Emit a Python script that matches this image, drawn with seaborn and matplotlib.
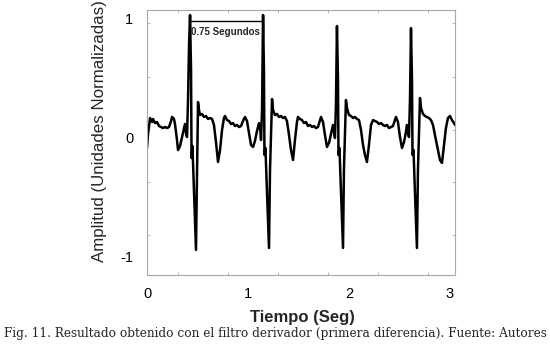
import matplotlib
matplotlib.use("Agg")
import matplotlib.pyplot as plt
import matplotlib.ticker as mticker
import seaborn as sns
import pandas as pd

# ---- data (time in s, normalized amplitude) ----
tiempo = [
    0.000, 0.010, 0.030, 0.050, 0.059, 0.079, 0.099, 0.119, 0.139, 0.158,
    0.178, 0.198, 0.218, 0.238, 0.248, 0.267, 0.277, 0.297, 0.307, 0.327,
    0.347, 0.366, 0.376, 0.386, 0.396, 0.406, 0.416, 0.426, 0.436, 0.441,
    0.450, 0.460, 0.485, 0.495, 0.505, 0.515, 0.525, 0.545, 0.564, 0.584,
    0.604, 0.624, 0.644, 0.663, 0.683, 0.703, 0.723, 0.743, 0.762, 0.772,
    0.792, 0.812, 0.832, 0.851, 0.871, 0.891, 0.911, 0.931, 0.950, 0.970,
    0.990, 1.010, 1.030, 1.050, 1.069, 1.089, 1.109, 1.119, 1.129, 1.139,
    1.149, 1.158, 1.163, 1.173, 1.183, 1.208, 1.218, 1.238, 1.248, 1.267,
    1.287, 1.307, 1.327, 1.347, 1.366, 1.386, 1.406, 1.426, 1.446, 1.465,
    1.485, 1.495, 1.515, 1.535, 1.554, 1.574, 1.594, 1.614, 1.634, 1.653,
    1.673, 1.693, 1.713, 1.723, 1.743, 1.762, 1.782, 1.802, 1.822, 1.842,
    1.851, 1.861, 1.871, 1.881, 1.891, 1.896, 1.906, 1.916, 1.941, 1.950,
    1.970, 1.980, 2.000, 2.020, 2.040, 2.059, 2.079, 2.099, 2.119, 2.139,
    2.158, 2.178, 2.198, 2.218, 2.238, 2.257, 2.277, 2.297, 2.317, 2.337,
    2.356, 2.376, 2.396, 2.416, 2.436, 2.455, 2.465, 2.485, 2.505, 2.525,
    2.545, 2.564, 2.574, 2.584, 2.594, 2.604, 2.614, 2.624, 2.629, 2.639,
    2.649, 2.673, 2.683, 2.703, 2.713, 2.733, 2.752, 2.772, 2.792, 2.812,
    2.832, 2.851, 2.881, 2.901, 2.921, 2.941, 2.960, 2.980, 3.000, 3.020,
    3.040, 3.050,
]
amplitud = [
    -0.088, 0.029, 0.163, 0.130, 0.155, 0.121, 0.130, 0.096, 0.088, 0.079,
    0.088, 0.079, 0.088, 0.138, 0.172, 0.155, 0.113, -0.021, -0.105, -0.071,
    0.004, 0.079, 0.113, 0.038, 0.004, 0.314, 0.774, 1.025, 0.565, -0.172,
    -0.071, -0.314, -0.941, -0.314, 0.297, 0.230, 0.188, 0.197, 0.172, 0.180,
    0.155, 0.163, 0.155, 0.105, -0.038, -0.205, -0.105, 0.063, 0.163, 0.180,
    0.146, 0.138, 0.113, 0.121, 0.096, 0.105, 0.088, 0.096, 0.138, 0.172,
    0.138, 0.038, -0.063, -0.079, -0.029, 0.054, 0.121, 0.088, -0.021, 0.230,
    1.025, 0.565, -0.146, -0.088, -0.339, -0.925, -0.272, 0.322, 0.230, 0.188,
    0.197, 0.172, 0.180, 0.163, 0.172, 0.138, 0.021, -0.105, -0.188, -0.021,
    0.130, 0.172, 0.155, 0.146, 0.121, 0.130, 0.096, 0.105, 0.088, 0.096,
    0.079, 0.088, 0.146, 0.172, 0.130, 0.021, -0.079, -0.046, 0.029, 0.105,
    0.063, -0.004, 0.272, 0.933, 0.481, -0.146, -0.088, -0.339, -0.925, -0.272,
    0.314, 0.247, 0.188, 0.180, 0.163, 0.172, 0.155, 0.146, 0.063, -0.063,
    -0.146, -0.205, -0.063, 0.105, 0.146, 0.138, 0.130, 0.113, 0.121, 0.105,
    0.096, 0.105, 0.079, 0.088, 0.096, 0.146, 0.172, 0.130, 0.004, -0.088,
    -0.038, 0.046, 0.105, 0.046, 0.004, 0.314, 0.916, 0.481, -0.146, -0.105,
    -0.356, -0.925, -0.272, 0.331, 0.247, 0.197, 0.180, 0.172, 0.163, 0.146,
    0.105, 0.021, -0.105, -0.188, -0.213, -0.063, 0.079, 0.163, 0.180, 0.146,
    0.121, 0.105,
]

x_tick_vals = [0, 1, 2, 3]
y_tick_vals = [-1, 0, 1]
x_minor = [0.307, 0.802, 1.297, 1.792, 2.287, 2.782]
y_minor = [-0.816, -0.372, 0.063, 0.506, 0.958]

intervalo_x = [0.426, 1.149]   # R-R interval bracket ends
intervalo_y = 0.975
intervalo_txt = "0.75 Segundos"

df = pd.DataFrame({"Tiempo": tiempo, "Amplitud": amplitud})

sns.set_style("white")
plt.rcParams["font.family"] = ["Liberation Sans", "DejaVu Sans"]

fig = plt.figure(figsize=(5.5, 3.45), dpi=100)
ax = fig.add_axes([0.2673, 0.2029, 0.56, 0.768])

sns.lineplot(data=df, x="Tiempo", y="Amplitud", ax=ax, color="black",
             linewidth=1.8, sort=False, estimator=None)

ax.set_xlim(0, 3.05)
ax.set_ylim(-1.151, 1.067)

ax.set_xticks(x_tick_vals)
ax.set_xticklabels([str(v) for v in x_tick_vals])
ax.set_yticks(y_tick_vals)
ax.set_yticklabels([str(v) for v in y_tick_vals])
ax.xaxis.set_minor_locator(mticker.FixedLocator(x_minor))
ax.yaxis.set_minor_locator(mticker.FixedLocator(y_minor))
ax.tick_params(which="major", length=0, labelsize=10.5, colors="black")
ax.tick_params(axis="x", which="major", pad=9)
ax.tick_params(axis="y", which="major", pad=10)
ax.tick_params(which="minor", direction="in", length=2.5, width=0.6,
               color="#b0b0b0", top=True, right=True, bottom=True, left=True)

for s in ax.spines.values():
    s.set_color("#a8a8a8")
    s.set_linewidth(0.8)

ax.set_xlabel("Tiempo (Seg)", fontsize=12, fontweight="bold", va="center")
ax.xaxis.set_label_coords(0.503, -0.162)
ax.set_ylabel("Amplitud (Unidades Normalizadas)", fontsize=12.2, va="center")
ax.yaxis.set_label_coords(-0.153, 0.543)

# R-R bracket annotation
ax.plot(intervalo_x, [intervalo_y, intervalo_y], color="black", lw=1.0)
for xv in intervalo_x:
    ax.plot([xv, xv], [intervalo_y + 0.05, intervalo_y - 0.12], color="black", lw=1.0)
ax.text(intervalo_x[0] + 0.01, intervalo_y - 0.09, intervalo_txt, fontsize=7,
        fontweight="bold", ha="left", va="center")

fig.text(0.5, 0.032,
         "Fig. 11. Resultado obtenido con el filtro derivador (primera diferencia). Fuente: Autores",
         ha="center", va="center", fontsize=8.7, family="DejaVu Serif")

fig.savefig("out.png", dpi=100, facecolor="white")
